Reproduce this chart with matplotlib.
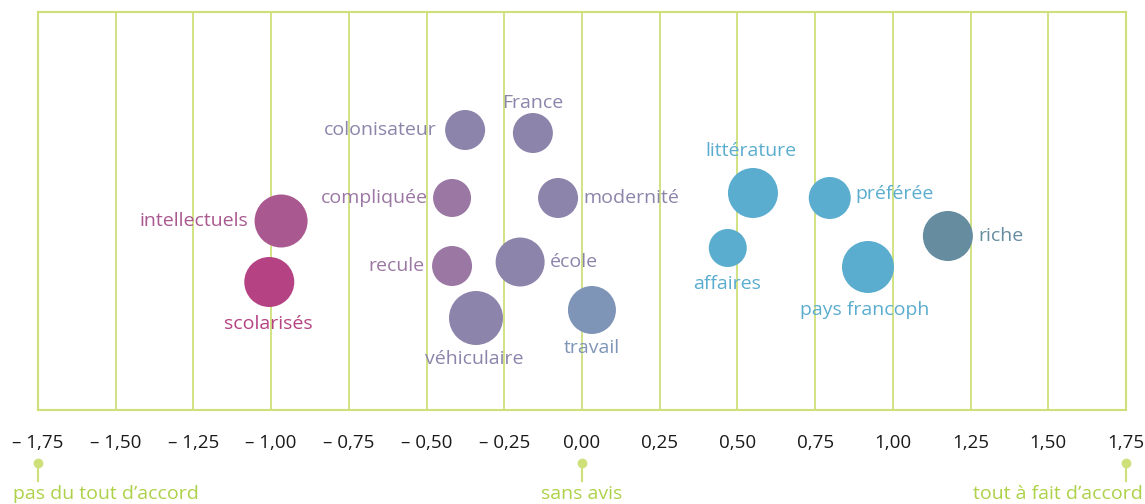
import matplotlib.pyplot as plt
import numpy as np

plt.rcParams['font.family'] = ['Open Sans', 'DejaVu Sans']

# bubble data: score, vertical position (free scale), radius (px)
words = ["intellectuels", "scolarisés", "colonisateur", "France", "compliquée",
         "modernité", "recule", "école", "véhiculaire", "travail",
         "littérature", "préférée", "affaires", "pays francoph", "riche"]
scores = [-0.968, -1.006, -0.376, -0.158, -0.418, -0.077, -0.418, -0.199,
          -0.341, 0.032, 0.550, 0.797, 0.469, 0.920, 1.177]
heights = [189, 128, 280, 277, 212, 212, 144, 148, 92, 100, 217, 212, 162, 143, 174]
radii = [26.5, 25, 20, 20, 19, 20, 20, 24.5, 27, 24, 25, 21, 19, 26, 25]
colors = ["#a9598f", "#b54282", "#8d84ab", "#8d84ab", "#9b77a3", "#8d84ab",
          "#9b77a3", "#8d84ab", "#8d84ab", "#7f95b8", "#5badcf", "#5badcf",
          "#5badcf", "#5badcf", "#668c9f"]
label_side = ["left", "below", "left", "above", "left", "right", "left", "right",
              "below", "below", "above", "right", "below", "below", "right"]
# label offset from bubble centre, in pixels (x right, y down)
label_off = [(-33, 0), (-1, 42), (-28, 0), (0, -30), (-24, 0), (25, 0),
             (-28, 0), (30, 0), (-2, 41), (0, 38), (-2, -42), (26, -4),
             (-1, 36), (-3, 43), (30, 0)]

ticks = np.arange(-1.75, 1.76, 0.25)
tick_labels = []
for t in ticks:
    s = "%.2f" % abs(t)
    s = s.replace(".", ",")
    if t < -0.001:
        s = "\u2013 " + s
    tick_labels.append(s)

ends = [-1.75, 0.0, 1.75]
end_labels = ["pas du tout d\u2019accord", "sans avis", "tout à fait d\u2019accord"]

green = "#cde07a"
text_green = "#add148"
W, H = 1145, 504

fig = plt.figure(figsize=(W / 100, H / 100), dpi=100)
ax = fig.add_axes([38 / W, (H - 410) / H, 1088 / W, 398 / H])
ax.set_xlim(-1.75, 1.75)
ax.set_ylim(0, 398)

for t in ticks:
    ax.axvline(t, color=green, lw=1.3, zorder=0)
for sp in ax.spines.values():
    sp.set_color(green)
    sp.set_linewidth(1.5)

ax.set_yticks([])
ax.set_xticks(ticks)
ax.set_xticklabels(tick_labels, fontsize=13.5, color="#1a1a1a")
ax.tick_params(axis="x", length=0, pad=17)

px2pt = 0.72
for i in range(len(words)):
    r = radii[i]
    ax.scatter(scores[i], heights[i], s=(2 * r * px2pt) ** 2, color=colors[i],
               edgecolors="none", zorder=3)
    side = label_side[i]
    ha = {"left": "right", "right": "left"}.get(side, "center")
    dx, dy = label_off[i]
    ax.annotate(words[i], (scores[i], heights[i]), xytext=(dx * px2pt, -dy * px2pt),
                textcoords="offset points", ha=ha, va="center", fontsize=14,
                color=colors[i], zorder=4)

# scale end markers
trans = ax.get_xaxis_transform()
for x in ends:
    ax.plot([x, x], [-0.133, -0.178], color=green, lw=1.5, transform=trans,
            clip_on=False)
    ax.plot(x, -0.133, "o", ms=6, color=green, transform=trans, clip_on=False)

fig.text(13 / W, 1 - 494 / H, end_labels[0], ha="left", va="center",
         fontsize=14, color=text_green)
fig.text(582 / W, 1 - 494 / H, end_labels[1], ha="center", va="center",
         fontsize=14, color=text_green)
fig.text(1143 / W, 1 - 494 / H, end_labels[2], ha="right", va="center",
         fontsize=14, color=text_green)

fig.savefig("out.png", dpi=100)
